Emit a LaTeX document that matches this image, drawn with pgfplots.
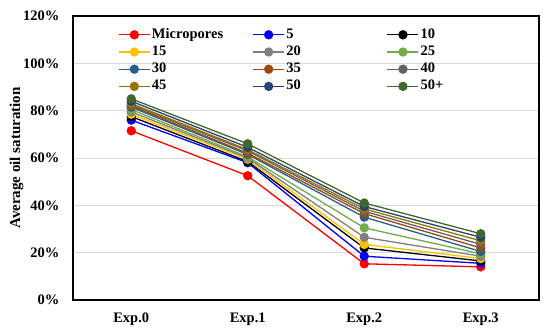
\documentclass[border=0pt]{standalone}
\usepackage{pgfplots}
\pgfplotsset{compat=1.18}
\usepackage{fontspec}
\setmainfont{Liberation Serif}
\definecolor{cYel}{HTML}{FFC000}
\definecolor{cGry}{HTML}{808080}
\definecolor{cGrn}{HTML}{70AD47}
\definecolor{cStl}{HTML}{255E91}
\definecolor{cBrn}{HTML}{9E480E}
\definecolor{cDgy}{HTML}{636363}
\definecolor{cOch}{HTML}{997300}
\definecolor{cNav}{HTML}{264478}
\definecolor{cDgr}{HTML}{43682B}
\definecolor{gridc}{HTML}{D9D9D9}
\newcommand{\lt}[1]{\makebox[99bp][l]{#1}}
\begin{document}
\begin{tikzpicture}
\useasboundingbox (0,0) rectangle (550bp,330bp);
\begin{axis}[
  at={(73bp,30bp)}, anchor=south west,
  scale only axis, width=466bp, height=284bp,
  xmin=-0.5, xmax=3.5, ymin=0, ymax=120,
  xtick={0,1,2,3}, xticklabels={Exp.0,Exp.1,Exp.2,Exp.3},
  ytick={0,20,...,120},
  yticklabel={\pgfmathprintnumber{\tick}\%},
  /pgf/number format/assume math mode=true,
  major tick length=0pt,
  ymajorgrids, grid style={gridc, line width=0.9bp},
  axis line style={black, line width=1.2bp},
  tick label style={font=\fontsize{14.5bp}{16bp}\selectfont\bfseries},
  yticklabel style={xshift=-10bp},
  xticklabel style={yshift=-9.5bp},
  ylabel={Average oil saturation},
  ylabel style={font=\fontsize{15bp}{17bp}\selectfont\bfseries, at={(axis description cs:-0.1212,0.5)}, anchor=center},
  every axis plot/.append style={line width=1.3bp, mark=*, mark size=4bp},
  legend columns=3,
  legend cell align=left,
  legend image code/.code={\draw[mark repeat=2,mark phase=2] plot coordinates {(0bp,0bp)(15.5bp,0bp)(31bp,0bp)};},
  legend style={draw=none, fill=none, at={(0,1)}, anchor=north west, xshift=45bp, yshift=-10bp,
    font=\fontsize{14.5bp}{16bp}\selectfont\bfseries, inner sep=0pt, column sep=0pt, row sep=0pt,
    nodes={inner xsep=1.5bp, inner ysep=2.1bp, text height=10bp, text depth=3bp}},
]
\addplot[color=red] coordinates {(0,71.5) (1,52.5) (2,15.3) (3,14)};
\addlegendentry{\lt{Micropores}}
\addplot[color=blue] coordinates {(0,76) (1,58) (2,18.5) (3,15.5)};
\addlegendentry{\lt{5}}
\addplot[color=black] coordinates {(0,77.5) (1,58.5) (2,22) (3,16.5)};
\addlegendentry{\lt{10}}
\addplot[color=cYel] coordinates {(0,78.5) (1,59.5) (2,23.5) (3,17.5)};
\addlegendentry{\lt{15}}
\addplot[color=cGry] coordinates {(0,79.5) (1,60) (2,26.5) (3,18.5)};
\addlegendentry{\lt{20}}
\addplot[color=cGrn] coordinates {(0,80.5) (1,60.5) (2,30.5) (3,19.5)};
\addlegendentry{\lt{25}}
\addplot[color=cStl] coordinates {(0,81.5) (1,61.5) (2,35) (3,20.5)};
\addlegendentry{\lt{30}}
\addplot[color=cBrn] coordinates {(0,82) (1,62) (2,36.5) (3,22)};
\addlegendentry{\lt{35}}
\addplot[color=cDgy] coordinates {(0,82.5) (1,63) (2,37.5) (3,23.5)};
\addlegendentry{\lt{40}}
\addplot[color=cOch] coordinates {(0,83) (1,63.5) (2,38.5) (3,25)};
\addlegendentry{\lt{45}}
\addplot[color=cNav] coordinates {(0,84) (1,64.5) (2,39.5) (3,26.5)};
\addlegendentry{\lt{50}}
\addplot[color=cDgr] coordinates {(0,85) (1,66) (2,41) (3,28)};
\addlegendentry{\lt{50+}}
\end{axis}
\end{tikzpicture}
\end{document}
